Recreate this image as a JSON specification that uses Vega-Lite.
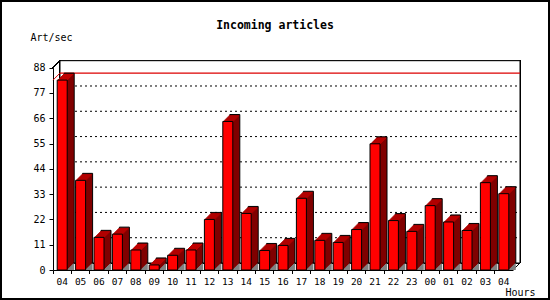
{
"$schema":"https://vega.github.io/schema/vega-lite/v6.json",
"width":550,"height":300,"autosize":"none","padding":0,
"background":"white",
"config":{"view":{"stroke":"black","strokeWidth":4,"fill":"white"},"font":"DejaVu Sans Mono"},
"title":{"text":"Incoming articles","font":"DejaVu Sans Mono","fontSize":11.5,"fontWeight":"bold","color":"black","anchor":"middle","frame":"group","offset":-40,"baseline":"alphabetic"},
"data":{"values":[
{"k":"a04","v":82.6},{"k":"a05","v":39.0},{"k":"a06","v":14.2},{"k":"a07","v":15.6},{"k":"a08","v":8.7},
{"k":"a09","v":2.2},{"k":"a10","v":6.4},{"k":"a11","v":8.7},{"k":"a12","v":22.0},{"k":"a13","v":64.6},
{"k":"a14","v":24.6},{"k":"a15","v":8.5},{"k":"a16","v":10.7},{"k":"a17","v":31.2},{"k":"a18","v":12.9},
{"k":"a19","v":12.0},{"k":"a20","v":17.6},{"k":"a21","v":54.9},{"k":"a22","v":21.5},{"k":"a23","v":16.8},
{"k":"b00","v":28.0},{"k":"b01","v":20.9},{"k":"b02","v":17.2},{"k":"b03","v":38.0},{"k":"b04","v":33.2}
]},
"layer":[
 {"layer":[
   {"mark":{"type":"rect","fill":"white","stroke":"black","strokeWidth":1,"xOffset":7,"x2Offset":7,"yOffset":-7,"y2Offset":-7},
    "encoding":{"y":{"datum":0,"type":"quantitative","scale":{"domain":[0,88],"range":[270,67.7],"nice":false},
      "axis":{"orient":"left","offset":-53,"values":[0,11,22,33,44,55,66,77,88],"tickSize":4,"labelPadding":4,"labelFont":"DejaVu Sans Mono","labelFontSize":10,"labelColor":"black","tickColor":"black","domainColor":"black","labelFlush":false,"labelOverlap":false,"grid":false,"title":"Art/sec","titleAngle":0,"titleX":-23,"titleY":40.5,"titleAlign":"left","titleBaseline":"alphabetic","titleFont":"DejaVu Sans Mono","titleFontSize":10,"titleFontWeight":"normal","titleColor":"black"}},
     "y2":{"datum":88}}},
   {"data":{"values":[{"g":11},{"g":22},{"g":33},{"g":44},{"g":55},{"g":66},{"g":77}]},
    "mark":{"type":"rule","color":"black","strokeDash":[2,3],"strokeWidth":1,"xOffset":7,"x2Offset":7,"yOffset":-7},
    "encoding":{"y":{"field":"g","type":"quantitative",
      "axis":{"orient":"left","offset":-53,"values":[0,11,22,33,44,55,66,77,88],"tickSize":4,"labelPadding":4,"labelFont":"DejaVu Sans Mono","labelFontSize":10,"labelColor":"black","tickColor":"black","domainColor":"black","labelFlush":false,"labelOverlap":false,"grid":false,"title":"Art/sec","titleAngle":0,"titleX":-23,"titleY":40.5,"titleAlign":"left","titleBaseline":"alphabetic","titleFont":"DejaVu Sans Mono","titleFontSize":10,"titleFontWeight":"normal","titleColor":"black"}}}},
   {"mark":{"type":"rule","color":"#dd0000","strokeWidth":1.2,"xOffset":7,"x2Offset":7,"yOffset":-7},
    "encoding":{"y":{"aggregate":"max","field":"v","type":"quantitative",
      "axis":{"orient":"left","offset":-53,"values":[0,11,22,33,44,55,66,77,88],"tickSize":4,"labelPadding":4,"labelFont":"DejaVu Sans Mono","labelFontSize":10,"labelColor":"black","tickColor":"black","domainColor":"black","labelFlush":false,"labelOverlap":false,"grid":false,"title":"Art/sec","titleAngle":0,"titleX":-23,"titleY":40.5,"titleAlign":"left","titleBaseline":"alphabetic","titleFont":"DejaVu Sans Mono","titleFontSize":10,"titleFontWeight":"normal","titleColor":"black"}}}},
   {"mark":{"type":"rule","color":"#dd0000","strokeWidth":1,"x2Offset":7,"y2Offset":-7},
    "encoding":{"x2":{"datum":0},
      "y":{"aggregate":"max","field":"v","type":"quantitative",
      "axis":{"orient":"left","offset":-53,"values":[0,11,22,33,44,55,66,77,88],"tickSize":4,"labelPadding":4,"labelFont":"DejaVu Sans Mono","labelFontSize":10,"labelColor":"black","tickColor":"black","domainColor":"black","labelFlush":false,"labelOverlap":false,"grid":false,"title":"Art/sec","titleAngle":0,"titleX":-23,"titleY":40.5,"titleAlign":"left","titleBaseline":"alphabetic","titleFont":"DejaVu Sans Mono","titleFontSize":10,"titleFontWeight":"normal","titleColor":"black"}},
      "y2":{"aggregate":"max","field":"v"}}},
   {"mark":{"type":"rule","color":"black","strokeWidth":1,"x2Offset":7,"y2Offset":-7},
    "encoding":{"x2":{"datum":0},
      "y":{"datum":88,"type":"quantitative",
      "axis":{"orient":"left","offset":-53,"values":[0,11,22,33,44,55,66,77,88],"tickSize":4,"labelPadding":4,"labelFont":"DejaVu Sans Mono","labelFontSize":10,"labelColor":"black","tickColor":"black","domainColor":"black","labelFlush":false,"labelOverlap":false,"grid":false,"title":"Art/sec","titleAngle":0,"titleX":-23,"titleY":40.5,"titleAlign":"left","titleBaseline":"alphabetic","titleFont":"DejaVu Sans Mono","titleFontSize":10,"titleFontWeight":"normal","titleColor":"black"}},
      "y2":{"datum":88}}},
   {"mark":{"type":"rule","color":"black","strokeWidth":1,"x2Offset":7,"y2Offset":-7},
    "encoding":{"x":{"datum":1,"type":"quantitative","scale":{"domain":[0,1],"range":[53,513]},"axis":null},"x2":{"datum":1},
      "y":{"datum":0,"type":"quantitative",
      "axis":{"orient":"left","offset":-53,"values":[0,11,22,33,44,55,66,77,88],"tickSize":4,"labelPadding":4,"labelFont":"DejaVu Sans Mono","labelFontSize":10,"labelColor":"black","tickColor":"black","domainColor":"black","labelFlush":false,"labelOverlap":false,"grid":false,"title":"Art/sec","titleAngle":0,"titleX":-23,"titleY":40.5,"titleAlign":"left","titleBaseline":"alphabetic","titleFont":"DejaVu Sans Mono","titleFontSize":10,"titleFontWeight":"normal","titleColor":"black"}},
      "y2":{"datum":0}}}
  ],
  "encoding":{"x":{"datum":0,"type":"quantitative","scale":{"domain":[0,1],"range":[53,513]},"axis":null},"x2":{"datum":1}}
 },
 {"layer":[
   {"mark":{"type":"bar","fill":"#808080","width":7,"xOffset":8.5,"y2Offset":-7},"encoding":{"y":{"datum":0,"type":"quantitative",
      "axis":{"orient":"left","offset":-53,"values":[0,11,22,33,44,55,66,77,88],"tickSize":4,"labelPadding":4,"labelFont":"DejaVu Sans Mono","labelFontSize":10,"labelColor":"black","tickColor":"black","domainColor":"black","labelFlush":false,"labelOverlap":false,"grid":false,"title":"Art/sec","titleAngle":0,"titleX":-23,"titleY":40.5,"titleAlign":"left","titleBaseline":"alphabetic","titleFont":"DejaVu Sans Mono","titleFontSize":10,"titleFontWeight":"normal","titleColor":"black"}},"y2":{"datum":0}}},
   {"mark":{"type":"bar","fill":"#800000","stroke":"black","strokeWidth":1,"width":10,"xOffset":7,"yOffset":-7,"y2Offset":-7},"encoding":{"y2":{"datum":0}}},
   {"mark":{"type":"bar","fill":"#800000","width":10,"xOffset":6,"yOffset":-6,"y2Offset":-6},"encoding":{"y2":{"datum":0}}},
   {"mark":{"type":"bar","fill":"#800000","width":10,"xOffset":5,"yOffset":-5,"y2Offset":-5},"encoding":{"y2":{"datum":0}}},
   {"mark":{"type":"bar","fill":"#800000","width":10,"xOffset":4,"yOffset":-4,"y2Offset":-4},"encoding":{"y2":{"datum":0}}},
   {"mark":{"type":"bar","fill":"#800000","width":10,"xOffset":3,"yOffset":-3,"y2Offset":-3},"encoding":{"y2":{"datum":0}}},
   {"mark":{"type":"bar","fill":"#800000","width":10,"xOffset":2,"yOffset":-2,"y2Offset":-2},"encoding":{"y2":{"datum":0}}},
   {"mark":{"type":"bar","fill":"#800000","width":10,"xOffset":1,"yOffset":-1,"y2Offset":-1},"encoding":{"y2":{"datum":0}}},
   {"mark":{"type":"bar","fill":"#c00000","width":10,"xOffset":1,"yOffset":-1,"y2Offset":0},"encoding":{"y2":{"field":"v"}}},
   {"mark":{"type":"bar","fill":"#c00000","width":10,"xOffset":2,"yOffset":-2,"y2Offset":-1},"encoding":{"y2":{"field":"v"}}},
   {"mark":{"type":"bar","fill":"#c00000","width":10,"xOffset":3,"yOffset":-3,"y2Offset":-2},"encoding":{"y2":{"field":"v"}}},
   {"mark":{"type":"bar","fill":"#c00000","width":10,"xOffset":4,"yOffset":-4,"y2Offset":-3},"encoding":{"y2":{"field":"v"}}},
   {"mark":{"type":"bar","fill":"#c00000","width":10,"xOffset":5,"yOffset":-5,"y2Offset":-4},"encoding":{"y2":{"field":"v"}}},
   {"mark":{"type":"bar","fill":"#c00000","width":10,"xOffset":6,"yOffset":-6,"y2Offset":-5},"encoding":{"y2":{"field":"v"}}},
   {"mark":{"type":"bar","fill":"#ff0000","stroke":"black","strokeWidth":1,"width":10},"encoding":{"y2":{"datum":0}}}
  ],
  "encoding":{
   "x":{"field":"k","type":"nominal","scale":{"type":"band","range":[53,513],"paddingInner":0,"paddingOuter":0},
     "axis":{"orient":"bottom","offset":-30,"bandPosition":0,"labelOffset":0,"tickSize":3.5,"labelPadding":2.5,"labelBaseline":"top","labelExpr":"substring(datum.label, 1)","labelFont":"DejaVu Sans Mono","labelFontSize":9.5,"labelColor":"black","tickColor":"black","domainColor":"black","labelAngle":0,"labelFlush":false,"labelOverlap":false,"grid":false,"title":"Hours","titleX":505,"titleY":25,"titleAlign":"left","titleBaseline":"alphabetic","titleFont":"DejaVu Sans Mono","titleFontSize":10,"titleFontWeight":"normal","titleColor":"black"}},
   "y":{"field":"v","type":"quantitative","scale":{"domain":[0,88],"range":[270,67.7],"nice":false},
     "axis":{"orient":"left","offset":-53,"values":[0,11,22,33,44,55,66,77,88],"tickSize":4,"labelPadding":4,"labelFont":"DejaVu Sans Mono","labelFontSize":10,"labelColor":"black","tickColor":"black","domainColor":"black","labelFlush":false,"labelOverlap":false,"grid":false,"title":"Art/sec","titleAngle":0,"titleX":-23,"titleY":40.5,"titleAlign":"left","titleBaseline":"alphabetic","titleFont":"DejaVu Sans Mono","titleFontSize":10,"titleFontWeight":"normal","titleColor":"black"}}
  }
 }
],
"resolve":{"scale":{"x":"independent"}}
}
